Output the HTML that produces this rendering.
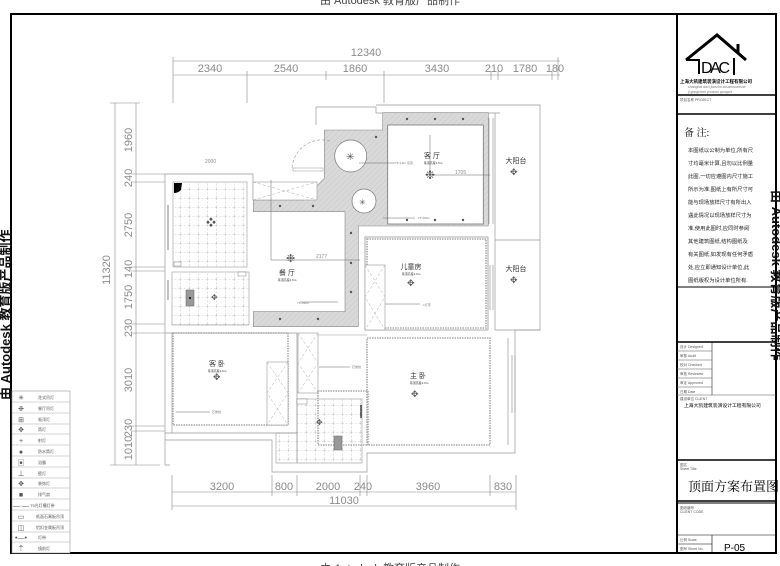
<!DOCTYPE html>
<html><head><meta charset="utf-8"><style>
html,body{margin:0;padding:0;background:#fff;}
svg{display:block;}
text{font-family:"Liberation Sans","Noto Sans CJK SC",sans-serif;}
.d{fill:#8a8a8a;font-size:11px;}
.c{font-family:"Liberation Serif","Noto Serif CJK SC",serif;}
</style></head><body>
<svg width="780" height="566" viewBox="0 0 780 566" xmlns="http://www.w3.org/2000/svg">
<defs>
<pattern id="tile" width="9" height="9" patternUnits="userSpaceOnUse">
<path d="M0 0H9M0 0V9" stroke="#999" stroke-width="0.6" stroke-dasharray="2 1.5" fill="none"/>
</pattern>
<pattern id="hatch" width="4" height="4" patternUnits="userSpaceOnUse" patternTransform="rotate(45)">
<rect width="4" height="4" fill="#d9d9d9"/><path d="M0 0V4" stroke="#c4c4c4" stroke-width="0.8"/>
</pattern>
</defs>

<text x="390" y="4" font-size="11" fill="#444" text-anchor="middle">由 Autodesk 教育版产品制作</text>
<text x="390" y="572" font-size="11" fill="#444" text-anchor="middle">由 Autodesk 教育版产品制作</text>

<rect x="11" y="14" width="765" height="539" fill="none" stroke="#000" stroke-width="2"/>
<line x1="677" y1="14" x2="677" y2="553" stroke="#000" stroke-width="2"/>

<text transform="translate(10,400) rotate(-90)" font-size="13" font-weight="bold" fill="#111">由 Autodesk 教育版产品制作</text>
<text transform="translate(772,190) rotate(90)" font-size="13" font-weight="bold" fill="#111">由 Autodesk 教育版产品制作</text>

<g stroke="#000" fill="none">
<line x1="677" y1="95" x2="776" y2="95" stroke-width="1.5"/>
<line x1="677" y1="114" x2="776" y2="114" stroke-width="1.5"/>
<line x1="677" y1="287" x2="776" y2="287" stroke-width="1"/>
<line x1="677" y1="342" x2="776" y2="342" stroke-width="1.5"/>
<line x1="677" y1="460" x2="776" y2="460" stroke-width="1.5"/>
<line x1="677" y1="501" x2="776" y2="501" stroke-width="1.5"/>
<line x1="677" y1="503" x2="776" y2="503" stroke-width="1"/>
<line x1="677" y1="535" x2="776" y2="535" stroke-width="0.6"/>
<line x1="677" y1="544" x2="712" y2="544" stroke-width="0.6"/>
<line x1="712" y1="535" x2="712" y2="553" stroke-width="0.6"/>
<line x1="712" y1="342" x2="712" y2="395" stroke-width="0.5"/>
</g>
<g stroke="#555" stroke-width="0.5">
<line x1="677" y1="351" x2="712" y2="351"/><line x1="677" y1="360" x2="712" y2="360"/>
<line x1="677" y1="369" x2="712" y2="369"/><line x1="677" y1="378" x2="712" y2="378"/>
<line x1="677" y1="387" x2="712" y2="387"/><line x1="677" y1="395" x2="776" y2="395"/>
</g>
<g font-size="3.5" fill="#555">
<text x="680" y="348">设计 Designed</text><text x="680" y="357">审核 Audit</text>
<text x="680" y="366">校对 Checked</text><text x="680" y="375">审批 Reviewed</text>
<text x="680" y="384">审定 Approved</text><text x="680" y="393">日期 Date</text>
<text x="680" y="400">建设单位 CLIENT</text>
<text x="680" y="101">项目名称 PROJECT</text>
<text x="680" y="466">图名</text><text x="680" y="470">Sheet Title</text>
<text x="680" y="509">图纸编号</text><text x="680" y="513">CLIENT  CODE</text>
<text x="680" y="541">比例 Scale</text><text x="680" y="550">图号 Sheet No.</text>
</g>
<path d="M686 60 L717 35 L746 60" fill="none" stroke="#000" stroke-width="3"/>
<path d="M738 53 V44" stroke="#000" stroke-width="3"/>
<path d="M686 60 H699 V74" fill="none" stroke="#000" stroke-width="2"/>
<text x="701" y="73" font-size="16" fill="#000" textLength="29">DAC</text>
<line x1="734" y1="58" x2="734" y2="75" stroke="#000" stroke-width="2"/>
<text x="680" y="83" font-size="4.5" fill="#000" font-weight="bold">上海大凯建筑装潢设计工程有限公司</text>
<text x="688" y="88" font-size="3.5" fill="#777" font-style="italic">shanghai daci jianzhu zhuanhuanshe</text>
<text x="688" y="93" font-size="3.5" fill="#777" font-style="italic">ji gongchen youxian gongshi</text>
<text x="684" y="136" font-size="10" class="c" fill="#000">备  注:</text>
<g font-size="5.3" class="c" fill="#222">
<text x="688" y="152">本图纸以公制为单位,所有尺</text>
<text x="688" y="165">寸均毫米计算,且勿以比例量</text>
<text x="688" y="178">此图,一切应遵图内尺寸施工</text>
<text x="688" y="191">所示为准,图纸上有所尺寸可</text>
<text x="688" y="204">能与现场放样尺寸有所出入</text>
<text x="688" y="217">遇此情况以现场放样尺寸为</text>
<text x="688" y="230">准,使用此图时,应同时参阅</text>
<text x="688" y="243">其他建筑图纸,结构图纸及</text>
<text x="688" y="256">有关图纸,如发现有任何矛盾</text>
<text x="688" y="269">处,应立即通知设计单位,此</text>
<text x="688" y="282">图纸版权为设计单位所有.</text>
</g>
<text x="684" y="407" font-size="4.8" fill="#000">上海大凯建筑装潢设计工程有限公司</text>
<text x="688" y="491" font-size="13" class="c" fill="#000">顶面方案布置图</text>
<text x="724" y="551" font-size="10" fill="#000">P-05</text>

<g stroke="#888" stroke-width="0.6" fill="none">
<line x1="173" y1="61" x2="560" y2="61"/>
<line x1="173" y1="75" x2="560" y2="75"/>
<path d="M173 57V103M247 71V103M326 71V80M384 71V103M491 71V80M498 71V80M552 71V80M558 57V80"/>
<line x1="172" y1="492" x2="516" y2="492"/>
<line x1="172" y1="506" x2="516" y2="506"/>
<path d="M172 475V510M272 475V496M297 475V496M360 475V496M367 475V496M490 475V496M516 475V510"/>
<line x1="115" y1="103" x2="115" y2="465"/>
<line x1="136" y1="103" x2="136" y2="465"/>
<path d="M110 103H140M131 174H165M131 182H165M131 267H165M131 271H165M131 324H165M131 333H165M131 426H165M131 431H165M110 465H160"/>
</g>
<g class="d" text-anchor="middle">
<text x="366" y="56">12340</text>
<text x="210" y="72">2340</text><text x="286" y="72">2540</text><text x="355" y="72">1860</text>
<text x="437" y="72">3430</text><text x="494" y="72">210</text><text x="525" y="72">1780</text><text x="555" y="72">180</text>
<text x="222" y="490">3200</text><text x="284" y="490">800</text><text x="328" y="490">2000</text>
<text x="363" y="490">240</text><text x="428" y="490">3960</text><text x="503" y="490">830</text>
<text x="344" y="504">11030</text>
</g>
<g class="d" text-anchor="middle">
<text transform="translate(110,270) rotate(-90)">11320</text>
<text transform="translate(132,140) rotate(-90)">1960</text>
<text transform="translate(132,178) rotate(-90)">240</text>
<text transform="translate(132,225) rotate(-90)">2750</text>
<text transform="translate(132,269) rotate(-90)">140</text>
<text transform="translate(132,297) rotate(-90)">1750</text>
<text transform="translate(132,328) rotate(-90)">230</text>
<text transform="translate(132,380) rotate(-90)">3010</text>
<text transform="translate(132,428) rotate(-90)">230</text>
<text transform="translate(132,448) rotate(-90)">1010</text>
</g>

<g stroke="#999" stroke-width="0.7" fill="none">
<path d="M165 174 V465 H170"/>
<path d="M165 174 H253 V200"/>
<path d="M316 107 H376 V113 H500 V113"/>
<path d="M316 107 V125"/>
<path d="M376 105 H540 V330 H515 V453 H367 V472 H272 V440 H165"/>
<path d="M495 113 V330 M495 330 H540"/>
<path d="M495 240 H540"/>
<path d="M165 333 H297 V433 H165"/>
<path d="M172 333 V433"/>
<path d="M508 338 V445 M512 355 V413 M515 355 V413"/>
<path d="M489 118 V224 M493 118 V224"/>
<path d="M490 265 V310 M493 265 V310"/>
</g>
<rect x="173" y="182" width="74" height="85" fill="url(#tile)" stroke="#999" stroke-width="0.6"/>
<rect x="172" y="272" width="77" height="53" fill="url(#tile)" stroke="#999" stroke-width="0.6"/>
<path d="M174 183 H182 L181 190 Q178 193 174 193 Z" fill="#000"/>
<rect x="186" y="290" width="8" height="16" fill="#999" stroke="#666" stroke-width="0.5"/>
<circle cx="190" cy="298" r="1" fill="#000"/>
<rect x="174" y="262" width="7" height="4" fill="#fff" stroke="#666" stroke-width="0.4"/>
<rect x="238" y="272" width="8" height="4" fill="#fff" stroke="#666" stroke-width="0.4"/>
<line x1="168" y1="205" x2="168" y2="250" stroke="#aaa" stroke-width="1.5"/>
<line x1="168" y1="280" x2="168" y2="300" stroke="#aaa" stroke-width="1.5"/>
<path d="M324.3 130 L382.7 130 L382.7 112.7 L488.3 112.7 L488.3 226 L358.3 226 L358.3 326.7 L253.3 326.7 L253.3 311.7 L345 311.7 L345 211.7 L253.3 211.7 L253.3 200 L303.3 200 L324.3 178.3 Z" fill="url(#hatch)" stroke="#888" stroke-width="0.6"/>
<rect x="387.7" y="125" width="95.6" height="99" fill="#fff" stroke="#777" stroke-width="0.8"/>
<circle cx="350.7" cy="156" r="16" fill="#fff" stroke="#777" stroke-width="0.7"/>
<circle cx="364" cy="201" r="12" fill="#fff" stroke="#777" stroke-width="0.7"/>
<rect x="253" y="182" width="64" height="18" fill="#fff" stroke="#999" stroke-width="0.6"/>
<path d="M253 182 L317 200 M253 200 L317 182" stroke="#aaa" stroke-width="0.5" stroke-dasharray="3 2"/>
<path d="M330 141 A 30 30 0 0 0 292 170" fill="none" stroke="#999" stroke-width="0.6" stroke-dasharray="3 2"/>
<rect x="293" y="168" width="30" height="3" fill="none" stroke="#999" stroke-width="0.5"/>
<rect x="365" y="237" width="123" height="93" fill="#fff" stroke="#888" stroke-width="0.7"/>
<rect x="367" y="239" width="119" height="89" fill="none" stroke="#aaa" stroke-width="1.6" stroke-dasharray="1.5 1"/>
<rect x="365" y="265" width="20" height="65" fill="#fff" stroke="#999" stroke-width="0.6"/>
<path d="M365 265 L385 297 L365 330 M385 265 L365 297 L385 330" stroke="#aaa" stroke-width="0.5" stroke-dasharray="3 2" fill="none"/>
<rect x="173" y="333" width="115" height="92" fill="none" stroke="#aaa" stroke-width="1.6" stroke-dasharray="1.5 1"/>
<rect x="267" y="362" width="21" height="63" fill="#fff" stroke="#999" stroke-width="0.6"/>
<path d="M267 362 L288 393 L267 425 M288 362 L267 393 L288 425" stroke="#aaa" stroke-width="0.5" stroke-dasharray="3 2" fill="none"/>
<rect x="298" y="333" width="20" height="60" fill="#fff" stroke="#999" stroke-width="0.6"/>
<path d="M298 333 L318 363 L298 393 M318 333 L298 363 L318 393" stroke="#aaa" stroke-width="0.5" stroke-dasharray="3 2" fill="none"/>
<rect x="367" y="338" width="123" height="107" fill="none" stroke="#aaa" stroke-width="1.6" stroke-dasharray="1.5 1"/>
<line x1="318" y1="335" x2="367" y2="335" stroke="#999" stroke-width="0.6"/>
<rect x="318" y="391" width="50" height="54" fill="none" stroke="#aaa" stroke-width="1.6" stroke-dasharray="1.5 1"/>
<rect x="297" y="399" width="65" height="64" fill="url(#tile)" stroke="#999" stroke-width="0.6"/>
<rect x="276" y="433" width="21" height="30" fill="url(#tile)" stroke="#999" stroke-width="0.6"/>
<rect x="334" y="436" width="8" height="14" fill="#999" stroke="#666" stroke-width="0.5"/>
<rect x="297" y="399" width="10" height="5" fill="#fff" stroke="#666" stroke-width="0.4"/>
<line x1="361" y1="405" x2="361" y2="418" stroke="#000" stroke-width="1"/>

<g fill="#555" font-size="8">
<text x="346" y="160" font-size="10">✳</text>
<text x="359" y="205" font-size="8">✳</text>
<text x="425" y="179" font-size="12">❉</text>
<text x="286" y="262" font-size="11">❉</text>
<text x="206" y="226" font-size="10">❖</text>
<text x="211" y="300" font-size="8">✥</text>
<text x="213" y="380" font-size="9">✥</text>
<text x="407" y="286" font-size="9">✥</text>
<text x="411" y="397" font-size="9">✥</text>
<text x="510" y="175" font-size="9">✥</text>
<text x="510" y="283" font-size="9">✥</text>
<text x="316" y="425" font-size="8">✥</text>
</g>
<g fill="#555">
<circle cx="407" cy="119" r="1.2"/><circle cx="435" cy="119" r="1.2"/><circle cx="463" cy="119" r="1.2"/>
<circle cx="407" cy="220" r="1.2"/><circle cx="435" cy="220" r="1.2"/><circle cx="463" cy="220" r="1.2"/>
<circle cx="280" cy="206" r="1.2"/><circle cx="313" cy="206" r="1.2"/>
<circle cx="280" cy="319" r="1.2"/><circle cx="318" cy="319" r="1.2"/>
<circle cx="351" cy="233" r="1.2"/><circle cx="351" cy="263" r="1.2"/><circle cx="351" cy="292" r="1.2"/>
<circle cx="376" cy="137" r="1.2"/>
</g>
<g class="c" font-size="7" fill="#333" text-anchor="middle">
<text x="432" y="158">客 厅</text>
<text x="411" y="269">儿童房</text>
<text x="287" y="275">餐 厅</text>
<text x="217" y="366">客 卧</text>
<text x="418" y="378">主 卧</text>
<text x="516" y="163">大阳台</text>
<text x="516" y="271">大阳台</text>
</g>
<g font-size="3" fill="#333" text-anchor="middle">
<text x="433" y="164">吊顶高度2.6m</text><text x="411" y="275">吊顶高度2.6m</text>
<text x="287" y="281">吊顶高度2.6m</text><text x="217" y="372">吊顶高度2.6m</text>
<text x="419" y="384">吊顶高度2.6m</text>
</g>
<g stroke="#666" stroke-width="0.5" fill="none">
<path d="M359 163 H395 M383 218 H415 M338 302 H300 M385 304 H420 M176 412 H210 M319 367 H350"/>
<path d="M430 135 V175 H490 M271 180 V260 H360"/>
</g>
<g font-size="3" fill="#777">
<text x="395" y="164">T5 3.0m 吊顶</text><text x="418" y="219">T5 200m</text>
<text x="297" y="304">T5 200m</text><text x="423" y="306">L灯带</text>
<text x="212" y="413">石膏线</text><text x="352" y="368">石膏线</text>
</g>
<g fill="#8a8a8a" style="font-size:5px">
<text x="455" y="174" style="font-size:5px">1705</text><text x="316" y="258" style="font-size:5px">2177</text><text x="205" y="163" style="font-size:5px">2000</text>
</g>

<rect x="12" y="391" width="58" height="162" fill="#fff" stroke="#999" stroke-width="0.6"/>
<g stroke="#aaa" stroke-width="0.5">
<path d="M12 402H70M12 413H70M12 424H70M12 434H70M12 445H70M12 456H70M12 467H70M12 478H70M12 488H70M12 499H70M12 510H70M12 521H70M12 532H70M12 542H70"/>
</g>
<g font-size="7" fill="#555" text-anchor="middle">
<text x="21" y="400">✳</text><text x="21" y="411">❉</text><text x="21" y="422">⊞</text>
<text x="21" y="432">✥</text><text x="21" y="443">+</text><text x="21" y="454">●</text>
<text x="21" y="465">▣</text><text x="21" y="476">⊥</text><text x="21" y="486">✥</text>
<text x="21" y="497">■</text><text x="21" y="508">—·—</text><text x="21" y="519">▭</text>
<text x="21" y="530">◫</text><text x="21" y="540">•—•</text><text x="21" y="551">⍑</text>
</g>
<g font-size="4" fill="#555">
<text x="38" y="399">花式吊灯</text><text x="38" y="410">餐厅吊灯</text><text x="38" y="421">吸顶灯</text>
<text x="38" y="431">筒灯</text><text x="38" y="442">射灯</text><text x="38" y="453">防水筒灯</text>
<text x="38" y="464">浴霸</text><text x="38" y="475">壁灯</text><text x="38" y="485">装饰灯</text>
<text x="38" y="496">排气扇</text><text x="30" y="507">T5光灯槽灯带</text><text x="36" y="518">纸面石膏板吊顶</text>
<text x="36" y="529">铝扣金属板吊顶</text><text x="38" y="539">灯带</text><text x="38" y="550">镜前灯</text>
</g>
</svg>
</body></html>
